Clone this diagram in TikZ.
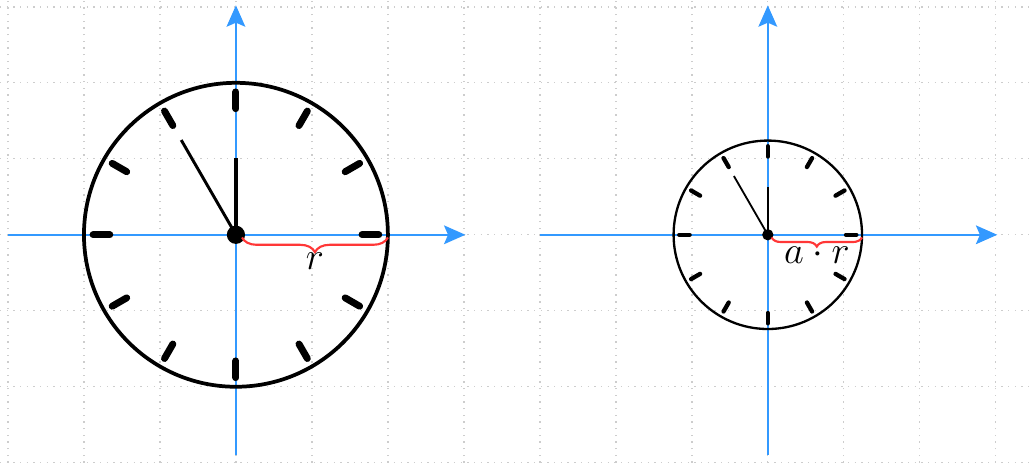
\documentclass[tikz,border=0pt]{standalone}
\usepackage{amsmath}
\usetikzlibrary{arrows.meta, calc, decorations.pathreplacing}
\definecolor{axisblue}{RGB}{51,153,255}
\definecolor{bracered}{RGB}{255,55,55}
\definecolor{gridgray}{RGB}{205,205,205}

\begin{document}
\begin{tikzpicture}[
    gridline/.style={gridgray, dotted, line width=0.5pt},
    axisline/.style={axisblue, line width=0.8pt, -{Stealth[length=8pt, width=7pt, inset=1.5pt]}},
    radbrace/.style={bracered, line width=0.8pt, decorate},
  ]
  \useasboundingbox (-3.105,-3.0) rectangle (10.49,3.09);
  \draw[gridline] (-3.105,-3.0) grid (10.49,3.09);

  % one clock for r, one for a*r
  \foreach \cx/\s/\lab/\nm in {0/1/{r}/L, 7/0.62/{a\cdot r}/R}{
    \draw[axisline] (\cx-3,0) -- (\cx+3.02,0);
    \draw[axisline] (\cx,-2.9) -- (\cx,3.02);

    \node[circle, fill=black, inner sep=0pt, minimum size=\s*0.24cm] (c\nm) at (\cx,0) {};
    \draw[line width=\s*1.4pt] (c\nm.center) circle (2*\s);

    % hour marks
    \foreach \h in {0,...,11}
      \draw[line width=\s*2.6pt, line cap=round, shift={(\cx,0)}] (\h*30:1.66*\s) -- (\h*30:1.88*\s);

    % hands
    \draw[line width=\s*1.5pt] (c\nm.center) -- ++(90:1.01*\s);
    \draw[line width=\s*1.1pt] (c\nm.center) -- ++(120:1.44*\s);

    \coordinate (e\nm) at (\cx+2*\s,0);
    \draw[radbrace, decoration={brace, mirror, amplitude=\s*5.5pt, raise=1pt}]
      ($(c\nm.center)+(0.08*\s,0)$) -- (e\nm)
      node[midway, anchor=north, inner sep=0pt, yshift=-\s*6.4pt, black, font=\Large] (lab\nm) {$\lab$};
  }
\end{tikzpicture}
\end{document}
